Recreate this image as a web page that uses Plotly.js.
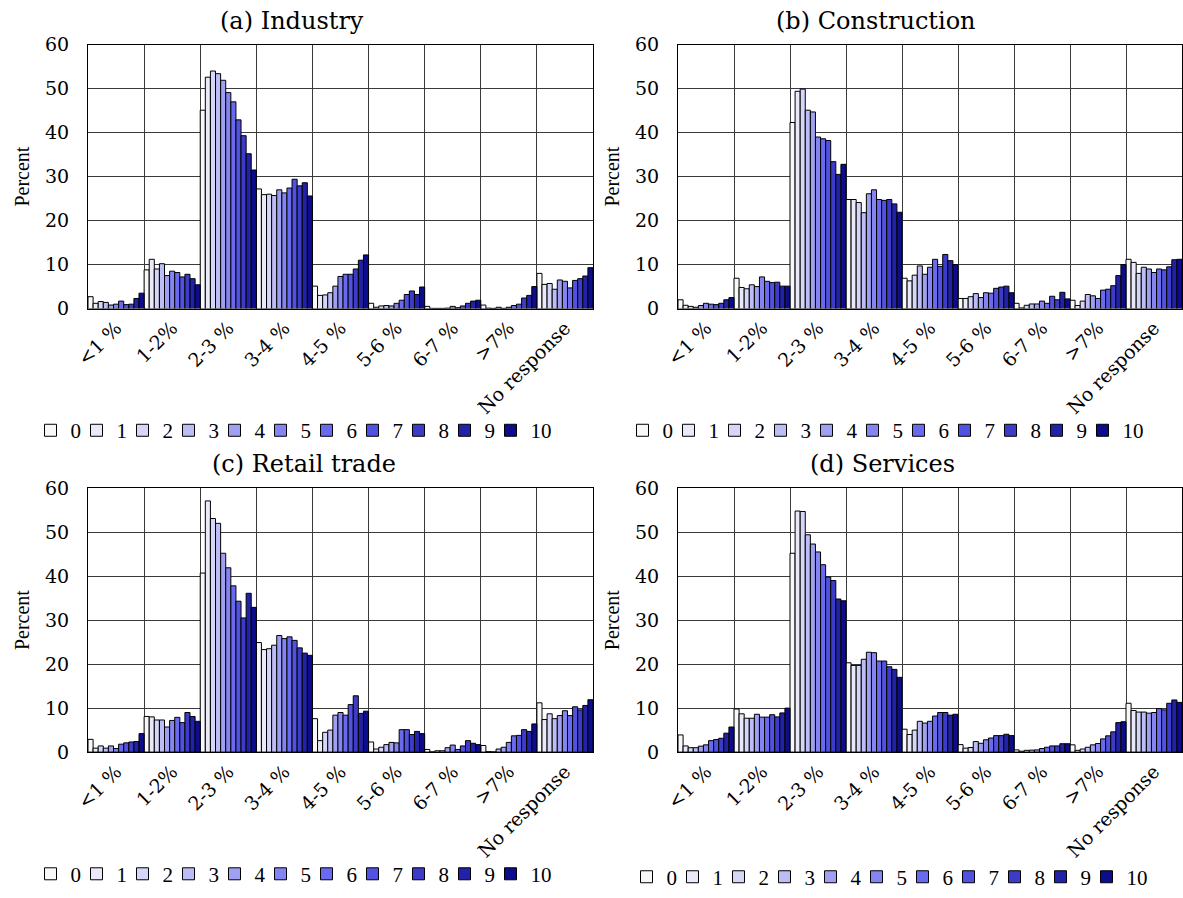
<!DOCTYPE html>
<html>
<head>
<meta charset="utf-8">
<script src="https://cdn.plot.ly/plotly-3.0.1.min.js"></script>
<style>html,body{margin:0;padding:0;background:#fff;}#chart{width:1183px;height:898px;}</style>
</head>
<body>
<div id="chart"></div>
<script>
// Categories (x axis)
const categories = ['<1 %', '1-2%', '2-3 %', '3-4 %', '4-5 %', '5-6 %', '6-7 %', '>7%', 'No response'];
// Series names (legend)
const seriesNames = ['0','1','2','3','4','5','6','7','8','9','10'];
const seriesColors = ['#f8f8f8','#e9e9f9','#d6d6f8','#bcbcf6','#a0a0f2','#8484f2','#6a6af0','#5252e0','#3c3cc8','#2222a8','#0c0c8c'];
const yTicks = [0,10,20,30,40,50,60];

// Each row = one category; each column = series 0..10 (percent)
const industry = [
  [2.7,1.2,1.6,1.4,0.8,1.0,1.7,0.9,1.0,2.3,3.5],
  [8.8,11.2,9.0,10.2,7.5,8.5,8.2,7.2,7.8,6.8,5.4],
  [45.1,52.6,54.0,53.4,51.9,49.1,47.0,42.9,39.3,35.2,31.5],
  [27.2,25.9,26.0,25.7,27.0,26.3,27.4,29.4,27.9,28.6,25.6],
  [5.1,3.0,3.1,3.6,5.1,7.3,7.8,7.8,9.0,11.0,12.2],
  [1.2,0.3,0.6,0.7,0.6,1.2,1.9,3.2,4.0,3.2,4.9],
  [0.5,0.05,0.05,0.05,0.1,0.5,0.2,0.6,1.2,1.7,1.9],
  [0.8,0.1,0.05,0.3,0.05,0.3,0.7,1.0,2.4,3.0,5.0],
  [8.0,5.5,5.7,4.4,6.5,6.2,4.7,6.4,6.8,7.4,9.3]
];
const construction = [
  [2.0,0.75,0.5,0.3,0.7,1.2,1.0,0.9,1.2,2.0,2.5],
  [6.9,4.8,4.5,5.4,5.0,7.2,6.2,5.9,6.0,5.1,5.1],
  [42.3,49.4,49.9,45.1,44.7,39.0,38.6,38.2,33.4,30.5,32.8],
  [24.8,24.8,24.1,21.8,26.1,27.0,24.8,24.6,24.8,23.8,21.9],
  [6.9,6.3,7.6,9.7,7.8,9.4,11.2,9.6,12.3,10.9,10.0],
  [2.3,2.3,2.7,3.4,2.5,3.6,3.5,4.6,4.9,5.1,3.6],
  [1.2,0.15,0.75,1.05,1.05,1.7,1.2,2.8,2.0,3.7,2.2],
  [1.9,0.7,1.7,3.2,2.9,2.3,4.2,4.4,5.2,7.5,10.0],
  [11.2,10.5,8.0,9.4,9.0,8.2,9.0,8.8,9.5,11.1,11.2]
];
const retail = [
  [2.9,0.9,1.4,0.9,1.4,0.8,1.8,2.1,2.3,2.4,4.2],
  [8.1,8.0,7.3,7.3,5.7,7.2,7.9,6.7,9.0,8.1,7.0],
  [40.7,57.1,53.1,52.0,45.2,41.9,37.8,34.3,30.5,36.1,32.9],
  [24.9,23.3,23.5,24.3,26.5,25.8,26.2,25.4,23.7,22.5,22.0],
  [7.6,2.6,4.5,5.0,8.4,9.0,8.4,10.8,12.8,8.8,9.3],
  [2.3,0.7,1.1,1.7,2.2,2.1,5.1,5.1,4.0,4.7,4.2],
  [0.6,0.05,0.3,0.3,1.0,1.6,0.6,1.4,2.6,2.0,1.7],
  [1.5,0.1,0.05,0.7,1.1,2.2,3.7,3.8,5.1,4.7,6.4],
  [11.2,7.4,8.7,7.6,8.3,9.4,8.3,10.3,9.6,10.6,11.9]
];
const services = [
  [3.9,1.4,1.0,1.0,1.35,1.65,2.6,2.85,3.15,4.3,5.7],
  [9.8,8.7,7.7,7.7,8.6,7.95,7.95,8.5,8.0,8.9,10.0],
  [45.2,54.8,54.7,49.4,47.3,45.5,42.6,39.8,39.0,34.8,34.4],
  [20.3,19.7,19.7,21.1,22.7,22.6,20.7,20.7,19.4,18.8,17.0],
  [5.2,4.0,5.0,7.0,6.6,7.0,8.2,9.0,9.0,8.4,8.6],
  [1.7,0.9,1.05,2.4,2.0,2.8,3.2,3.75,3.75,4.05,3.75],
  [0.5,0.2,0.4,0.45,0.5,0.8,1.1,1.4,1.4,1.9,1.9],
  [1.65,0.4,0.7,1.1,1.65,1.95,3.0,3.7,4.6,6.7,6.9],
  [11.1,9.45,9.1,9.1,8.85,9.0,9.9,9.6,11.1,11.85,11.3]
];
const panelTitles = ['(a) Industry', '(b) Construction', '(c) Retail trade', '(d) Services'];
const yTitle = 'Percent';

const W = 1183, H = 898;
const panels = [industry, construction, retail, services];
// pixel geometry of each plot area: [left, right, top, bottom]
const boxes = [[88,593,45,311],[678,1182,45,311],[88,593,492,758],[678,1182,492,758]];
const titlePos = [[292,21],[876,21],[304,468],[882,468]];
const legendPos = [[294,434],[886,434],[294,881],[890,884]];

const serif = 'DejaVu Serif, serif';
const times = 'Liberation Serif, Times New Roman, serif';

const traces = [];
panels.forEach((rows, p) => {
  const sfx = p === 0 ? '' : String(p + 1);
  seriesNames.forEach((name, s) => {
    const t = {
      type: 'bar',
      name: name,
      x: categories,
      y: rows.map(r => r[s]),
      xaxis: 'x' + sfx,
      yaxis: 'y' + sfx,
      legend: 'legend' + sfx,
      marker: {color: seriesColors[s], line: {color: '#000', width: 1}},
      hoverinfo: 'x+y+name'
    };
    if (name.length > 1) t.legendwidth = 22;
    traces.push(t);
  });
});

const layout = {
  width: W, height: H,
  margin: {l: 0, r: 0, t: 0, b: 0},
  paper_bgcolor: '#fff', plot_bgcolor: '#fff',
  barmode: 'group', bargap: 0, bargroupgap: 0,
  showlegend: true,
  annotations: [],
  font: {family: serif, color: '#000'}
};

boxes.forEach((b, p) => {
  const sfx = p === 0 ? '' : String(p + 1);
  layout['xaxis' + sfx] = {
    domain: [b[0] / W, b[1] / W],
    anchor: 'y' + sfx,
    type: 'category',
    categoryorder: 'array', categoryarray: categories,
    tickson: 'boundaries',
    showgrid: true, gridcolor: '#3a3a3a', gridwidth: 1,
    showline: true, mirror: true, linecolor: '#000', linewidth: 1,
    ticks: 'outside', ticklen: 9, tickcolor: 'rgba(0,0,0,0)',
    tickangle: -45,
    tickfont: {family: serif, size: 19, color: '#000'},
    fixedrange: true
  };
  layout['yaxis' + sfx] = {
    domain: [1 - b[3] / H, 1 - b[2] / H],
    anchor: 'x' + sfx,
    range: [0, 60],
    tickvals: yTicks,
    showgrid: true, gridcolor: '#3a3a3a', gridwidth: 1,
    zeroline: false,
    showline: true, mirror: true, linecolor: '#000', linewidth: 1,
    ticks: 'outside', ticklen: 14, tickcolor: 'rgba(0,0,0,0)',
    tickfont: {family: serif, size: 19, color: '#000'},
    title: {text: yTitle, font: {family: times, size: 20, color: '#000'}, standoff: 10},
    fixedrange: true
  };
  layout['legend' + sfx] = {
    orientation: 'h',
    x: legendPos[p][0] / W, xanchor: 'center',
    y: 1 - legendPos[p][1] / H, yanchor: 'middle',
    xref: 'paper', yref: 'paper',
    font: {family: times, size: 21, color: '#000'},
    bgcolor: 'rgba(0,0,0,0)', borderwidth: 0,
    traceorder: 'normal',
    itemwidth: 30,
    entrywidth: 1, entrywidthmode: 'pixels'
  };
  layout.annotations.push({
    text: panelTitles[p],
    xref: 'paper', yref: 'paper',
    x: titlePos[p][0] / W, y: 1 - titlePos[p][1] / H,
    xanchor: 'center', yanchor: 'middle',
    showarrow: false,
    font: {family: serif, size: 24, color: '#000'}
  });
});

Plotly.newPlot('chart', traces, layout, {displayModeBar: false, staticPlot: true});
</script>
</body>
</html>
